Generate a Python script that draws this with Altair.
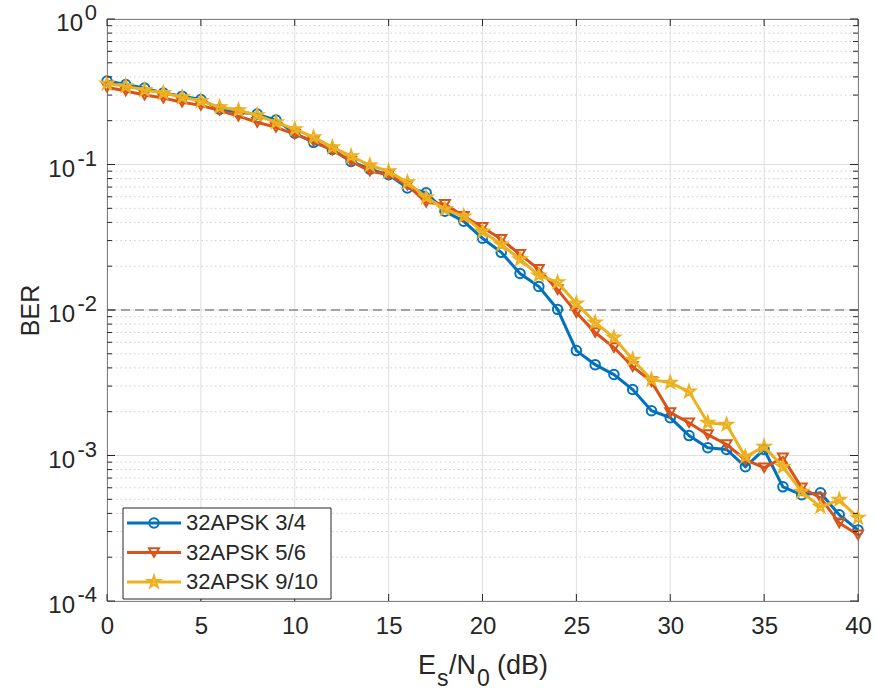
import altair as alt
import pandas as pd

# ---------------- data ----------------
snr = list(range(41))
series_names = ["32APSK 3/4", "32APSK 5/6", "32APSK 9/10"]
ber_34 = [0.375, 0.355, 0.335, 0.31, 0.295, 0.28, 0.24, 0.229, 0.222, 0.202,
          0.164, 0.142, 0.127, 0.105, 0.093, 0.085, 0.069, 0.064, 0.0477, 0.0407,
          0.0311, 0.0249, 0.0178, 0.0145, 0.0101, 0.00526, 0.00421, 0.0036, 0.00284, 0.00203,
          0.00182, 0.00137, 0.00113, 0.0011, 0.000837, 0.0011, 0.000609, 0.000537, 0.000554, 0.000391,
          0.000308]
ber_56 = [0.34, 0.32, 0.30, 0.286, 0.268, 0.255, 0.235, 0.215, 0.195, 0.18,
          0.1615, 0.1445, 0.1253, 0.1053, 0.09, 0.085, 0.072, 0.055, 0.0533, 0.044,
          0.037, 0.0306, 0.0241, 0.019, 0.0138, 0.0096, 0.0070, 0.00552, 0.00408, 0.00322,
          0.00197, 0.00168, 0.00139, 0.00119, 0.000935, 0.000824, 0.000965, 0.0006, 0.000512, 0.000344,
          0.000285]
ber_910 = [0.36, 0.345, 0.325, 0.31, 0.29, 0.273, 0.248, 0.236, 0.218, 0.195,
           0.175, 0.154, 0.1315, 0.114, 0.0988, 0.0898, 0.0755, 0.0595, 0.0492, 0.044,
           0.0347, 0.0282, 0.0223, 0.0173, 0.0155, 0.0111, 0.0082, 0.00647, 0.00456, 0.00332,
           0.00317, 0.00275, 0.00168, 0.00163, 0.00098, 0.00115, 0.000837, 0.000563, 0.000444, 0.000496,
           0.000373]
x_ticks = [0, 5, 10, 15, 20, 25, 30, 35, 40]
y_exponents = [0, -1, -2, -3, -4]
threshold = 0.01

# ---------------- styles ----------------
colors = ["#0072BD", "#D95319", "#EDB120"]
star = ("M0,-1L0.2245,-0.309L0.951,-0.309L0.363,0.118L0.588,0.809L0,0.382"
        "L-0.588,0.809L-0.363,0.118L-0.951,-0.309L-0.2245,-0.309Z")
shapes = ["circle", "triangle-down", star]
sizes = [90, 100, 160]
FONT = "Liberation Sans"
TXT = "#262626"
W, H = 751, 582

frames = []
for name, vals in zip(series_names, [ber_34, ber_56, ber_910]):
    frames.append(pd.DataFrame({"snr": snr, "ber": vals, "series": name}))
df = pd.DataFrame(pd.concat(frames, ignore_index=True))

major_y = [10.0 ** e for e in y_exponents]
minor_y = [m * 10.0 ** e for e in [-4, -3, -2, -1] for m in range(2, 10)]
df_major_y = pd.DataFrame({"v": major_y})
df_minor_y = pd.DataFrame({"v": minor_y})
df_xt = pd.DataFrame({"v": x_ticks})
df_ylab = pd.DataFrame({"v": major_y, "e": [str(e) for e in y_exponents]})
one = pd.DataFrame({"a": [0]})

xs = alt.Scale(domain=[0, 40], nice=False, zero=False)
ys = alt.Scale(type="log", domain=[1e-4, 1], nice=False)

# ---------------- grid ----------------
minor_grid = alt.Chart(df_minor_y).mark_rule(color="#cdcdcd", strokeWidth=1, strokeDash=[1.5, 3]).encode(
    y=alt.Y("v:Q", scale=ys), x=alt.value(0), x2=alt.value(W))
major_grid_y = alt.Chart(df_major_y).mark_rule(color="#dedede", strokeWidth=1).encode(
    y=alt.Y("v:Q", scale=ys), x=alt.value(0), x2=alt.value(W))
major_grid_x = alt.Chart(df_xt).mark_rule(color="#dedede", strokeWidth=1).encode(
    x=alt.X("v:Q", scale=xs), y=alt.value(0), y2=alt.value(H))
thr = alt.Chart(pd.DataFrame({"v": [threshold]})).mark_rule(
    color="#8a8a8a", strokeWidth=1.5, strokeDash=[9, 5]).encode(
    y=alt.Y("v:Q", scale=ys), x=alt.value(0), x2=alt.value(W))

# ---------------- axes (ticks inward) ----------------
base_x = alt.Chart(df).mark_point(opacity=0).encode(
    x=alt.X("snr:Q", scale=xs,
            axis=alt.Axis(values=x_ticks, ticks=False, domain=False, grid=False, title=None,
                          labelFlush=False, labelFontSize=24, labelColor=TXT, labelPadding=13,
                          labelFont=FONT)),
    y=alt.Y("ber:Q", scale=ys,
            axis=alt.Axis(labels=False, ticks=False, domain=False, grid=False, title="BER",
                          titleFontSize=25, titleFontWeight="normal", titleColor=TXT,
                          titlePadding=64, titleFont=FONT)))

xt_bot = alt.Chart(df_xt).mark_rule(color=TXT, strokeWidth=1).encode(
    x=alt.X("v:Q", scale=xs), y=alt.value(H), y2=alt.value(H - 7))
xt_top = alt.Chart(df_xt).mark_rule(color=TXT, strokeWidth=1).encode(
    x=alt.X("v:Q", scale=xs), y=alt.value(0), y2=alt.value(7))
yt_l = alt.Chart(df_major_y).mark_rule(color=TXT, strokeWidth=1).encode(
    y=alt.Y("v:Q", scale=ys), x=alt.value(0), x2=alt.value(8))
yt_r = alt.Chart(df_major_y).mark_rule(color=TXT, strokeWidth=1).encode(
    y=alt.Y("v:Q", scale=ys), x=alt.value(W), x2=alt.value(W - 8))
ymt_l = alt.Chart(df_minor_y).mark_rule(color=TXT, strokeWidth=1).encode(
    y=alt.Y("v:Q", scale=ys), x=alt.value(0), x2=alt.value(5))
ymt_r = alt.Chart(df_minor_y).mark_rule(color=TXT, strokeWidth=1).encode(
    y=alt.Y("v:Q", scale=ys), x=alt.value(W), x2=alt.value(W - 5))

# y tick labels 10^e
ten0 = alt.Chart(df_ylab).transform_filter("datum.e == '0'").mark_text(
    text="10", font=FONT, fontSize=24, color=TXT, align="right", baseline="middle", dy=5).encode(
    y=alt.Y("v:Q", scale=ys), x=alt.value(-24))
ten1 = alt.Chart(df_ylab).transform_filter("datum.e != '0'").mark_text(
    text="10", font=FONT, fontSize=24, color=TXT, align="right", baseline="middle", dy=5).encode(
    y=alt.Y("v:Q", scale=ys), x=alt.value(-32))
expo = alt.Chart(df_ylab).mark_text(
    font=FONT, fontSize=22, color=TXT, align="right", baseline="middle", dy=-6).encode(
    y=alt.Y("v:Q", scale=ys), x=alt.value(-10), text="e:N")

# x title with subscripts
def tpiece(txt, x, y, size):
    return alt.Chart(one).mark_text(text=txt, font=FONT, fontSize=size, color=TXT,
                                    align="left", baseline="alphabetic").encode(
        x=alt.value(x), y=alt.value(y))

xtitle = [tpiece("E", 311, 655, 27), tpiece("s", 330, 667, 23), tpiece("/N", 342, 655, 27),
          tpiece("0", 370, 667, 23), tpiece("(dB)", 390, 655, 27)]

# ---------------- series ----------------
series_layers = []
for name, c, sh, sz in zip(series_names, colors, shapes, sizes):
    sub = alt.Chart(df).transform_filter(alt.datum.series == name)
    series_layers.append(sub.mark_line(color=c, strokeWidth=3).encode(
        x=alt.X("snr:Q", scale=xs), y=alt.Y("ber:Q", scale=ys)))
    series_layers.append(sub.mark_point(color=c, shape=sh, size=sz, filled=False, strokeWidth=2,
                                        opacity=1).encode(
        x=alt.X("snr:Q", scale=xs), y=alt.Y("ber:Q", scale=ys)))

# ---------------- legend ----------------
leg = [alt.Chart(one).mark_rect(fill="white", stroke=TXT, strokeWidth=1).encode(
    x=alt.value(16), x2=alt.value(224), y=alt.value(489), y2=alt.value(580))]
leg_df = pd.DataFrame({"series": series_names})
for i, (name, c, sh, sz) in enumerate(zip(series_names, colors, shapes, sizes)):
    yy = 504 + i * 29.5
    sub = alt.Chart(leg_df).transform_filter(alt.datum.series == name)
    leg.append(sub.mark_rule(color=c, strokeWidth=3).encode(
        x=alt.value(20), x2=alt.value(74), y=alt.value(yy)))
    leg.append(sub.mark_point(color=c, shape=sh, size=sz, filled=False, strokeWidth=2, opacity=1).encode(
        x=alt.value(47), y=alt.value(yy)))
    leg.append(sub.mark_text(font=FONT, fontSize=22, color=TXT, align="left", baseline="middle").encode(
        x=alt.value(79), y=alt.value(yy), text="series:N"))

chart = alt.layer(
    minor_grid, major_grid_y, major_grid_x, thr, base_x,
    *series_layers,
    xt_bot, xt_top, yt_l, yt_r, ymt_l, ymt_r,
    ten0, ten1, expo, *xtitle, *leg
).properties(
    width=W, height=H,
    padding={"left": 107, "top": 19, "right": 18, "bottom": 90},
    autosize=alt.AutoSizeParams(type="none"),
    background="white",
).configure_view(stroke=TXT, strokeWidth=1).configure_text(font=FONT)

chart.save("out.html", embed_options={"renderer": "svg", "actions": False})
